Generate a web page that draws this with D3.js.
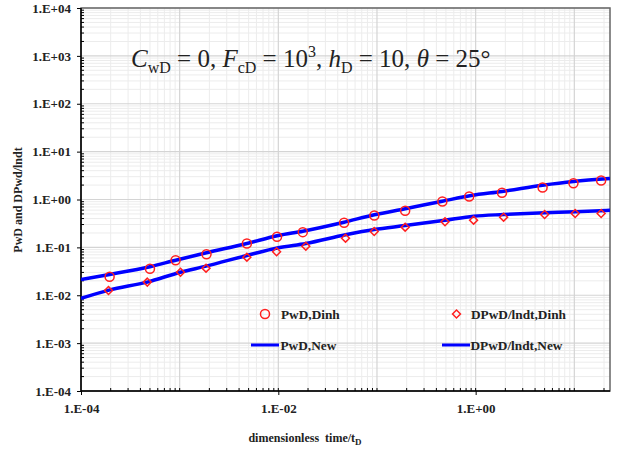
<!DOCTYPE html>
<html>
<head>
<meta charset="utf-8">
<script src="https://cdn.jsdelivr.net/npm/d3@7"></script>
<style>
  body { margin: 0; background: #fff; }
  svg { display: block; }
  svg text { font-family: "Liberation Serif", "Times New Roman", Times, serif; white-space: pre; }
</style>
</head>
<body>
<svg id="chart" width="629" height="452"></svg>
<script>
// ---- data ----
const xTickLabels = ["1.E-04", "1.E-02", "1.E+00"];
const xTickValues = [1e-4, 1e-2, 1];
const yTickLabels = ["1.E-04", "1.E-03", "1.E-02", "1.E-01", "1.E+00", "1.E+01", "1.E+02", "1.E+03", "1.E+04"];
const yTickValues = [1e-4, 1e-3, 1e-2, 1e-1, 1, 10, 100, 1000, 10000];

const dinhPwdT = [1.95e-4, 5e-4, 9.1e-4, 1.87e-3, 4.8e-3, 9.7e-3, 0.0177, 0.0464, 0.094, 0.193, 0.46, 0.86, 1.85, 4.77, 9.8, 18.7];
const dinhPwdV = [0.0243, 0.0357, 0.054, 0.0721, 0.1206, 0.166, 0.208, 0.326, 0.463, 0.581, 0.908, 1.155, 1.38, 1.78, 2.19, 2.49];

const dinhDerT = [1.9e-4, 4.7e-4, 1.02e-3, 1.85e-3, 4.8e-3, 9.6e-3, 0.019, 0.048, 0.0937, 0.193, 0.489, 0.953, 1.92, 5.0, 10.2, 18.7];
const dinhDerV = [0.0126, 0.0188, 0.0303, 0.0368, 0.0624, 0.081, 0.106, 0.1556, 0.215, 0.264, 0.342, 0.370, 0.427, 0.486, 0.510, 0.510];

const newPwdT = [1e-4, 1.95e-4, 5e-4, 9.1e-4, 1.87e-3, 4.8e-3, 0.01, 0.0177, 0.0464, 0.094, 0.193, 0.46, 0.9, 1.85, 4.77, 9.8, 23];
const newPwdV = [0.0214, 0.0272, 0.0394, 0.054, 0.0771, 0.1206, 0.177, 0.218, 0.336, 0.479, 0.640, 0.92, 1.21, 1.47, 1.99, 2.38, 2.74];

const newDerT = [1e-4, 1.92e-4, 4.7e-4, 1.02e-3, 1.85e-3, 4.8e-3, 0.01, 0.019, 0.048, 0.0937, 0.193, 0.489, 0.953, 1.92, 5.0, 10.2, 23];
const newDerV = [0.0086, 0.0128, 0.0188, 0.0303, 0.0405, 0.0677, 0.098, 0.1206, 0.183, 0.236, 0.286, 0.370, 0.448, 0.486, 0.528, 0.553, 0.598];

const legendLabels = ["PwD,Dinh", "DPwD/lndt,Dinh", "PwD,New", "DPwD/lndt,New"];
const xTitle = "dimensionless  time/t";
const yTitle = "PwD and DPwd/lndt";

// ---- layout ----
const svg = d3.select("#chart");
const L = 81, R = 610, T = 8, B = 391;
const x = d3.scaleLog().domain([1e-4, 23]).range([L, R]);
const y = d3.scaleLog().domain([1e-4, 1e4]).range([B, T]);

// grid
const g = svg.append("g");
const minorX = [];
for (let e = -4; e <= 1; e++) for (let m = 1; m <= 9; m++) { const v = m * Math.pow(10, e); if (v > 1e-4 && v < 23) minorX.push(v); }
const minorY = [];
for (let e = -4; e < 4; e++) for (let m = 2; m <= 9; m++) minorY.push(m * Math.pow(10, e));

g.selectAll(".mgy").data(minorY).enter().append("line")
  .attr("x1", L).attr("x2", R).attr("y1", d => y(d)).attr("y2", d => y(d))
  .attr("stroke", "#ececec").attr("stroke-width", 1);
g.selectAll(".mgx").data(minorX.filter(v => Math.abs(Math.log10(v) - Math.round(Math.log10(v))) > 1e-6)).enter().append("line")
  .attr("y1", T).attr("y2", B).attr("x1", d => x(d)).attr("x2", d => x(d))
  .attr("stroke", "#ececec").attr("stroke-width", 1);
g.selectAll(".Mgy").data(yTickValues).enter().append("line")
  .attr("x1", L).attr("x2", R).attr("y1", d => y(d)).attr("y2", d => y(d))
  .attr("stroke", "#d4d4d4").attr("stroke-width", 1.2);
g.selectAll(".Mgx").data([1e-3, 1e-2, 1e-1, 1, 10]).enter().append("line")
  .attr("y1", T).attr("y2", B).attr("x1", d => x(d)).attr("x2", d => x(d))
  .attr("stroke", "#d4d4d4").attr("stroke-width", 1.2);

// frame
svg.append("rect").attr("x", L).attr("y", T).attr("width", R - L).attr("height", B - T)
  .attr("fill", "none").attr("stroke", "#666").attr("stroke-width", 1.5);
svg.append("line").attr("x1", L).attr("x2", L).attr("y1", T).attr("y2", B).attr("stroke", "#000").attr("stroke-width", 1.5);
svg.append("line").attr("x1", L).attr("x2", R).attr("y1", B).attr("y2", B).attr("stroke", "#000").attr("stroke-width", 1.5);

// axes via d3
const yAxis = d3.axisLeft(y).tickValues(yTickValues).tickFormat((d, i) => yTickLabels[i]).tickSize(4).tickPadding(6);
const yg = svg.append("g").attr("transform", `translate(${L},0)`).call(yAxis);
yg.select(".domain").remove();
yg.attr("font-family", null);
yg.selectAll("text").attr("font-weight", "bold").attr("font-size", 13).attr("fill", "#222");
yg.selectAll("line").attr("stroke", "#000");

const xAxis = d3.axisBottom(x).tickValues(xTickValues).tickFormat((d, i) => xTickLabels[i]).tickSize(4).tickPadding(9);
const xg = svg.append("g").attr("transform", `translate(0,${B})`).call(xAxis);
xg.select(".domain").remove();
xg.attr("font-family", null);
xg.selectAll("text").attr("font-weight", "bold").attr("font-size", 13).attr("fill", "#222");
xg.selectAll("line").attr("stroke", "#000");

// inner minor ticks
svg.selectAll(".mty").data(minorY).enter().append("line")
  .attr("x1", L).attr("x2", L + 3).attr("y1", d => y(d)).attr("y2", d => y(d)).attr("stroke", "#000");
svg.selectAll(".mtx").data(minorX).enter().append("line")
  .attr("y1", B).attr("y2", B - 3).attr("x1", d => x(d)).attr("x2", d => x(d)).attr("stroke", "#000");

// lines
const lineGen = d3.line().x(d => x(d[0])).y(d => y(d[1])).curve(d3.curveMonotoneX);
svg.append("clipPath").attr("id", "clp").append("rect").attr("x", L).attr("y", T).attr("width", R - L).attr("height", B - T);
const plot = svg.append("g").attr("clip-path", "url(#clp)");
plot.append("path").datum(d3.zip(newPwdT, newPwdV)).attr("d", lineGen)
  .attr("fill", "none").attr("stroke", "#0000ff").attr("stroke-width", 3.5);
plot.append("path").datum(d3.zip(newDerT, newDerV)).attr("d", lineGen)
  .attr("fill", "none").attr("stroke", "#0000ff").attr("stroke-width", 3.5);

// markers
const circ = d3.symbol().type(d3.symbolCircle).size(64);
const diam = d3.symbol().type(d3.symbolDiamond2 || d3.symbolDiamond).size(40);
svg.selectAll(".c").data(d3.zip(dinhPwdT, dinhPwdV)).enter().append("path")
  .attr("d", circ).attr("transform", d => `translate(${x(d[0])},${y(d[1])})`)
  .attr("fill", "none").attr("stroke", "#ff2020").attr("stroke-width", 1.5);
svg.selectAll(".dm").data(d3.zip(dinhDerT, dinhDerV)).enter().append("path")
  .attr("d", diam).attr("transform", d => `translate(${x(d[0])},${y(d[1])})`)
  .attr("fill", "none").attr("stroke", "#ff2020").attr("stroke-width", 1.5);

// legend
const lg = svg.append("g").attr("font-weight", "bold").attr("font-size", 13.3).attr("fill", "#222");
lg.append("path").attr("d", circ).attr("transform", "translate(265,314)").attr("fill", "none").attr("stroke", "#ff2020").attr("stroke-width", 1.5);
lg.append("text").attr("x", 281).attr("y", 318.5).text(legendLabels[0]);
lg.append("path").attr("d", diam).attr("transform", "translate(456.5,314)").attr("fill", "none").attr("stroke", "#ff2020").attr("stroke-width", 1.5);
lg.append("text").attr("x", 471).attr("y", 318.5).text(legendLabels[1]);
lg.append("line").attr("x1", 251).attr("x2", 279).attr("y1", 345).attr("y2", 345).attr("stroke", "#0000ff").attr("stroke-width", 3);
lg.append("text").attr("x", 280.5).attr("y", 349.5).text(legendLabels[2]);
lg.append("line").attr("x1", 442).attr("x2", 470).attr("y1", 345).attr("y2", 345).attr("stroke", "#0000ff").attr("stroke-width", 3);
lg.append("text").attr("x", 470.5).attr("y", 349.5).text(legendLabels[3]);

// axis titles
const xt = svg.append("text").attr("x", 305).attr("y", 442).attr("text-anchor", "middle")
  .attr("font-weight", "bold").attr("font-size", 12).attr("fill", "#222");
xt.append("tspan").text(xTitle);
xt.append("tspan").attr("font-size", 9).attr("dy", 3).text("D");

svg.append("text").attr("transform", "translate(22,200) rotate(-90)").attr("text-anchor", "middle")
  .attr("font-weight", "bold").attr("font-size", 12).attr("fill", "#222").text(yTitle);

// equation annotation
const eq = svg.append("text").attr("x", 131).attr("y", 67)
  .attr("font-size", 25).attr("fill", "#222");
const parts = [
  ["C", "i", 0], ["wD", "", 1], [" = 0, ", "", 0], ["F", "i", 0], ["cD", "", 1],
  [" = 10", "", 0], ["3", "", 2], [", ", "", 0], ["h", "i", 0], ["D", "", 1],
  [" = 10, ", "", 0], ["\u03b8", "i", 0], [" = 25\u00b0", "", 0]
];
let cur = 0;
parts.forEach(([t, st, pos]) => {
  const target = pos === 1 ? 6 : pos === 2 ? -10 : 0;
  const ts = eq.append("tspan").text(t).attr("dy", target - cur);
  if (st === "i") ts.attr("font-style", "italic");
  if (pos) ts.attr("font-size", 16);
  cur = target;
});
</script>
</body>
</html>
